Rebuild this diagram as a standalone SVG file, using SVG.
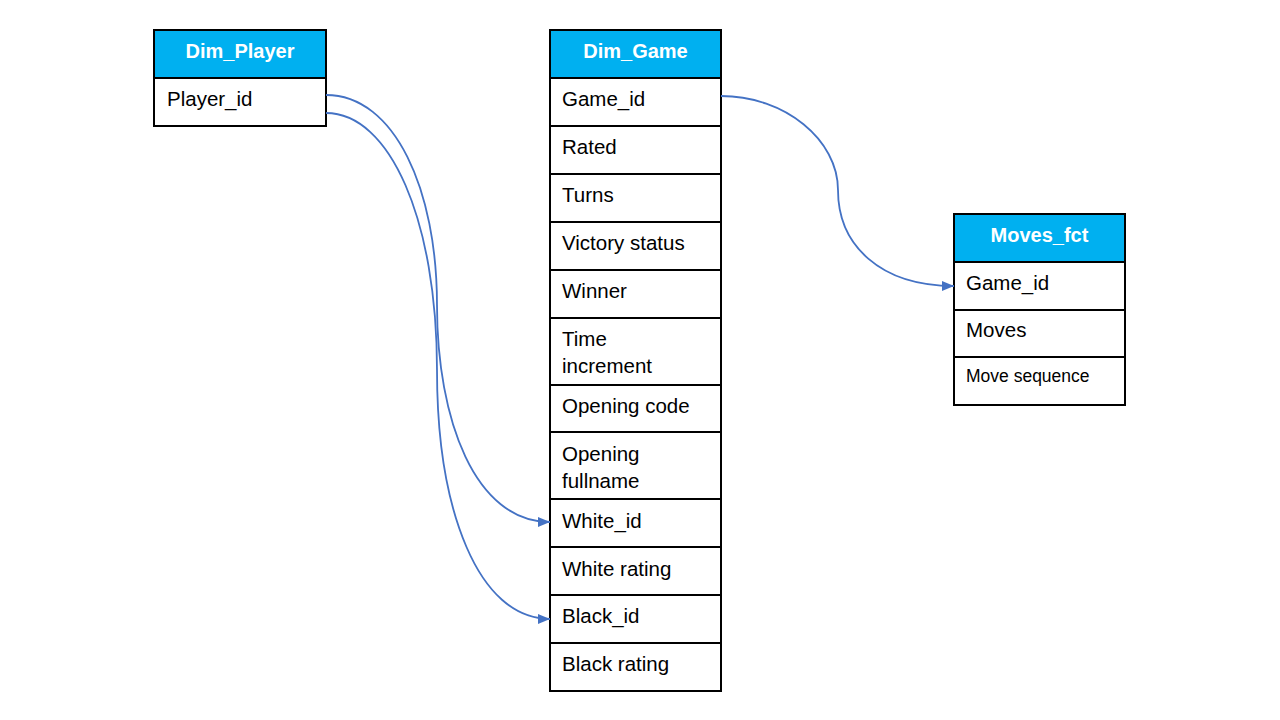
<svg xmlns="http://www.w3.org/2000/svg" width="1280" height="720" viewBox="0 0 1280 720">
<style>
.hd{fill:#00B0F0;stroke:#000;stroke-width:2}
.rw{fill:#fff;stroke:#000;stroke-width:2}
.ht{font-family:"Liberation Sans",Arial,sans-serif;font-weight:bold;font-size:20px;fill:#fff;text-anchor:middle}
.t{font-family:"Liberation Sans",Arial,sans-serif;font-size:20.5px;fill:#000}
.ts{font-family:"Liberation Sans",Arial,sans-serif;font-size:17.5px;fill:#000}
.c{fill:none;stroke:#4472C4;stroke-width:1.8;marker-end:url(#ah)}
</style>
<defs>
<marker id="ah" viewBox="0 0 12 10" refX="12" refY="5" markerWidth="12" markerHeight="10" markerUnits="userSpaceOnUse" orient="auto">
<path d="M0,0 L12,5 L0,10 Z" fill="#4472C4"/>
</marker>
</defs>
<rect width="1280" height="720" fill="#fff"/>
<g id="dim_player">
<rect class="hd" x="154" y="30" width="172" height="48"/>
<text class="ht" x="240" y="58">Dim_Player</text>
<rect class="rw" x="154" y="78" width="172" height="48"/>
<text class="t" x="167" y="106">Player_id</text>
</g>
<g id="dim_game">
<rect class="hd" x="550" y="30" width="171" height="48"/>
<text class="ht" x="635.5" y="58">Dim_Game</text>
<rect class="rw" x="550" y="78" width="171" height="48"/>
<text class="t" x="562" y="106">Game_id</text>
<rect class="rw" x="550" y="126" width="171" height="48"/>
<text class="t" x="562" y="154">Rated</text>
<rect class="rw" x="550" y="174" width="171" height="48"/>
<text class="t" x="562" y="202">Turns</text>
<rect class="rw" x="550" y="222" width="171" height="48"/>
<text class="t" x="562" y="250">Victory status</text>
<rect class="rw" x="550" y="270" width="171" height="48"/>
<text class="t" x="562" y="298">Winner</text>
<rect class="rw" x="550" y="318" width="171" height="67"/>
<text class="t" x="562" y="346">Time</text>
<text class="t" x="562" y="373">increment</text>
<rect class="rw" x="550" y="385" width="171" height="47"/>
<text class="t" x="562" y="413">Opening code</text>
<rect class="rw" x="550" y="432" width="171" height="67"/>
<text class="t" x="562" y="461">Opening</text>
<text class="t" x="562" y="488">fullname</text>
<rect class="rw" x="550" y="499" width="171" height="48"/>
<text class="t" x="562" y="528">White_id</text>
<rect class="rw" x="550" y="547" width="171" height="48"/>
<text class="t" x="562" y="576">White rating</text>
<rect class="rw" x="550" y="595" width="171" height="48"/>
<text class="t" x="562" y="623">Black_id</text>
<rect class="rw" x="550" y="643" width="171" height="48"/>
<text class="t" x="562" y="671">Black rating</text>
</g>
<g id="moves_fct">
<rect class="hd" x="954" y="214" width="171" height="48"/>
<text class="ht" x="1039.5" y="242">Moves_fct</text>
<rect class="rw" x="954" y="262" width="171" height="48"/>
<text class="t" x="966" y="290">Game_id</text>
<rect class="rw" x="954" y="310" width="171" height="47"/>
<text class="t" x="966" y="337">Moves</text>
<rect class="rw" x="954" y="357" width="171" height="48"/>
<text class="ts" x="966" y="382">Move sequence</text>
</g>
<g id="connectors">
<path class="c" d="M326,95 C395,95 437,190 437,305 C437,420 475,522 550,522"/>
<path class="c" d="M326,113 C390,113 437,220 437,370 C437,510 478,619 550,619"/>
<path class="c" d="M721,96 C785,96 838,140 838,190 C838,245 880,286 954,286"/>
</g>
</svg>
